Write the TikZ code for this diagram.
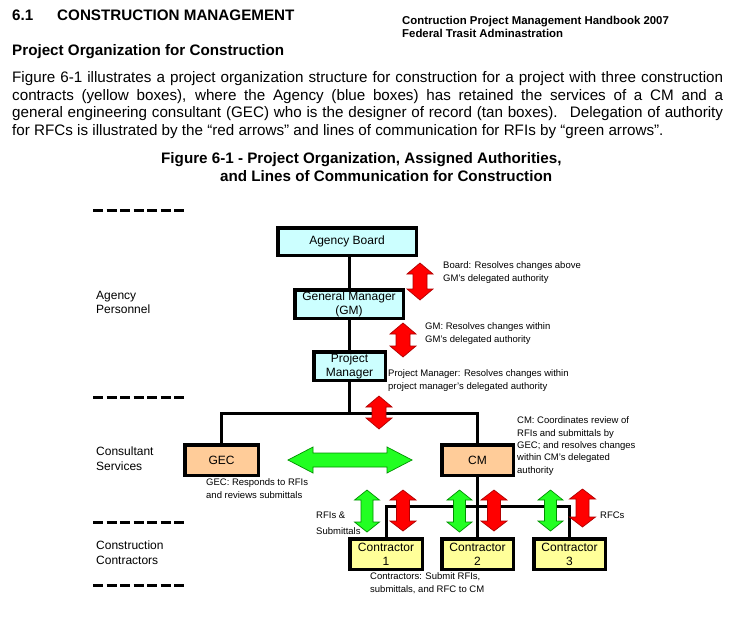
\documentclass[tikz,border=0pt]{standalone}
\usepackage{fontspec}
\setmainfont{Liberation Sans}
\definecolor{boxcyan}{HTML}{CCFFFF}
\definecolor{boxtan}{HTML}{FFCC99}
\definecolor{boxyel}{HTML}{FFFF99}
\definecolor{arrred}{HTML}{FF0000}
\definecolor{arrredline}{HTML}{B00000}
\definecolor{arrgreen}{HTML}{22FF22}
\definecolor{arrgreenline}{HTML}{009000}
% vertical double block arrow: style, x, ytop, ybot, headlen, headhalf, shafthalf
\newcommand\VArr[7]{\draw[#1] (#2,#3) -- (#2+#6,#3+#5) -- (#2+#7,#3+#5) -- (#2+#7,#4-#5) -- (#2+#6,#4-#5) -- (#2,#4) -- (#2-#6,#4-#5) -- (#2-#7,#4-#5) -- (#2-#7,#3+#5) -- (#2-#6,#3+#5) -- cycle;}
% horizontal double block arrow: style, y, xleft, xright, headlen, headhalf, shafthalf
\newcommand\HArr[7]{\draw[#1] (#3,#2) -- (#3+#5,#2-#6) -- (#3+#5,#2-#7) -- (#4-#5,#2-#7) -- (#4-#5,#2-#6) -- (#4,#2) -- (#4-#5,#2+#6) -- (#4-#5,#2+#7) -- (#3+#5,#2+#7) -- (#3+#5,#2+#6) -- cycle;}
\tikzset{
  para/.style={font=\fontsize{15.2}{17.6}\selectfont, inner sep=0, anchor=base west},
  parab/.style={para, font=\fontsize{15.2}{17.6}\selectfont\bfseries},
  hdr/.style={font=\fontsize{11.4}{13}\selectfont\bfseries, inner sep=0, anchor=base west},
  note/.style={font=\fontsize{9.5}{12.4}\selectfont, inner sep=0, align=left, anchor=north west},
  lbl/.style={font=\fontsize{12}{14.5}\selectfont, inner sep=0, align=left, anchor=north west},
  orgbox/.style={draw, line width=3.5pt, inner sep=0, align=center, font=\fontsize{12}{14.2}\selectfont},
  agency/.style={orgbox, fill=boxcyan},
  consult/.style={orgbox, fill=boxtan},
  contr/.style={orgbox, fill=boxyel},
  conn/.style={line width=3pt, line join=miter},
  sep/.style={line width=3pt, dash pattern=on 10pt off 3.5pt},
  redarr/.style={fill=arrred, draw=arrredline, line width=0.7pt, line join=miter},
  greenarr/.style={fill=arrgreen, draw=arrgreenline, line width=0.7pt, line join=miter},
}
\begin{document}
\begin{tikzpicture}[x=1pt, y=-1pt]
\fill[white] (0,0) rectangle (734,624);
\useasboundingbox (0,0) rectangle (734,624);

% headings
\node[parab] (t61) at (12,20.5) {6.1};
\node[parab] (tcm) at (57,20.5) {CONSTRUCTION MANAGEMENT};
\node[hdr] (h1) at (402,24) {Contruction Project Management Handbook 2007};
\node[hdr] (h2) at (402,37) {Federal Trasit Adminastration};
\node[parab] (tpo) at (12,55.5) {Project Organization for Construction};

% paragraph
\node[para] (p1) at (12,82.5) {\makebox[711pt][s]{Figure 6-1 illustrates a project organization structure for construction for a project with three construction}};
\node[para] (p2) at (12,100.5) {\makebox[711pt][s]{contracts (yellow boxes), where the Agency (blue boxes) has retained the services of a CM and a}};
\node[para] (p3) at (12,117.5) {\makebox[711pt][s]{general engineering consultant (GEC) who is the designer of record (tan boxes). \ Delegation of authority}};
\node[para] (p4) at (12,135.5) {for RFCs is illustrated by the “red arrows” and lines of communication for RFIs by “green arrows”.};

% caption
\node[parab] (c1) at (161,163.5) {Figure 6-1 - Project Organization, Assigned Authorities,};
\node[parab] (c2) at (220,181.5) {and Lines of Communication for Construction};

% separators
\draw[sep] (93,210) -- (186,210);
\draw[sep] (93,397) -- (186,397);
\draw[sep] (93,522) -- (186,522);
\draw[sep] (93,585) -- (186,585);

% side labels
\node[lbl] (l1) at (96,291) {Agency\\Personnel};
\node[lbl] (l2) at (96,447) {Consultant\\Services};
\node[lbl] (l3) at (96,541) {Construction\\Contractors};

% boxes
\node[agency, minimum width=138.5, minimum height=27.5] (AB) at (347,241.5) {Agency Board};
\node[agency, minimum width=108.5, minimum height=28.5] (GM) at (349,304) {General Manager\\(GM)};
\node[agency, minimum width=71.5, minimum height=28.5] (PM) at (349.5,366) {Project\\Manager};
\node[consult, minimum width=73.5, minimum height=30.5] (GEC) at (221.5,460) {GEC};
\node[consult, minimum width=71.5, minimum height=30.5] (CM) at (477.5,460) {CM};
\node[contr, minimum width=72.5, minimum height=30.5] (C1) at (386,554) {Contractor\\1};
\node[contr, minimum width=71.5, minimum height=30.5] (C2) at (477.5,554) {Contractor\\2};
\node[contr, minimum width=71.5, minimum height=30.5] (C3) at (569.5,554) {Contractor\\3};

% connectors
\coordinate (J1) at (349.5,413);
\coordinate (J2) at (477.5,506);
\draw[conn] (AB.south -| GM.south) -- (GM.north);
\draw[conn] (GM.south) -- (PM.north -| GM.south);
\draw[conn] (PM.south) -- (J1);
\draw[conn] (GEC.north) |- (J1) -| (CM.north);
\draw[conn] (CM.south) -- (C2.north);
\draw[conn] (C1.north) |- (J2) -| (C3.north);

% authority / communication arrows
\VArr{redarr}{420}{263}{300}{11}{13}{7}
\VArr{redarr}{403}{323}{357}{11}{13}{7}
\VArr{redarr}{379}{396}{429}{11}{13}{7}
\HArr{greenarr}{460}{288}{412}{25}{13}{7}
\VArr{greenarr}{367}{490}{532}{10}{12.5}{6}
\VArr{greenarr}{459.5}{490}{532}{10}{12.5}{6}
\VArr{greenarr}{550.5}{490}{531}{10}{12.5}{6}
\VArr{redarr}{403}{490}{531}{10}{13}{6.5}
\VArr{redarr}{494}{490}{531}{10}{13}{6.5}
\VArr{redarr}{582.5}{489}{527}{10}{13}{6.5}

% notes
\node[note] (nb) at (443,261.6) {Board: Resolves changes above\\GM's delegated authority};
\node[note] (ng) at (425,322.6) {GM: Resolves changes within\\GM's delegated authority};
\node[note] (np) at (388,369.6) {Project Manager: Resolves changes within\\project manager's delegated authority};
\node[note] (nc) at (517,416.6) {CM: Coordinates review of\\RFIs and submittals by\\GEC; and resolves changes\\within CM's delegated\\authority};
\node[note] (ne) at (206,478.6) {GEC: Responds to RFIs\\and reviews submittals};
\node[note, font=\fontsize{9.5}{16}\selectfont] (nr) at (316,511.6) {RFIs \&\\Submittals};
\node[note] (nf) at (600,511.6) {RFCs};
\node[note] (nk) at (370,572.6) {Contractors: Submit RFIs,\\submittals, and RFC to CM};
\end{tikzpicture}
\end{document}
